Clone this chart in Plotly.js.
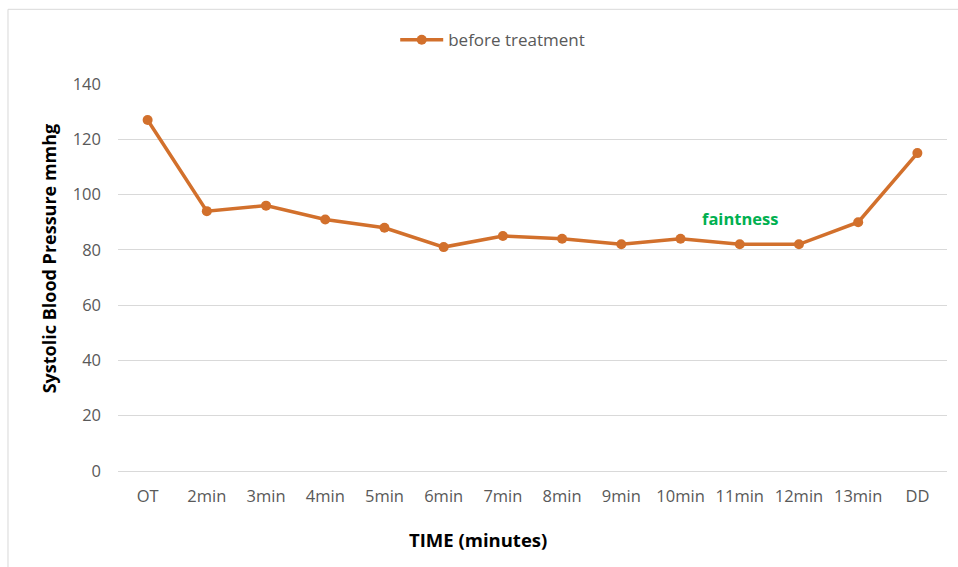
<!DOCTYPE html>
<html>
<head>
<meta charset="utf-8">
<script src="https://cdn.plot.ly/plotly-3.0.1.min.js"></script>
<style>
  html, body { margin: 0; padding: 0; background: #ffffff; }
  #chart { width: 958px; height: 567px; }
</style>
</head>
<body>
<div id="chart"></div>
<script>
// Time points of the measurement
const timeLabels = ['OT', '2min', '3min', '4min', '5min', '6min', '7min', '8min',
                    '9min', '10min', '11min', '12min', '13min', 'DD'];
// Systolic blood pressure (mmHg) before treatment
const beforeTreatment = [127, 94, 96, 91, 88, 81, 85, 84, 82, 84, 82, 82, 90, 115];
// Event note
const noteText = 'faintness';
const noteAt = '11min';
const noteY = 91.5;

const lineColor = '#d2702c';
const fontFamily = 'Open Sans, Liberation Sans, sans-serif';
const tickFont = { family: fontFamily, size: 16.5, color: '#595959' };

const trace = {
  type: 'scatter',
  mode: 'lines+markers',
  name: 'before treatment',
  x: timeLabels,
  y: beforeTreatment,
  line: { color: lineColor, width: 3.5 },
  marker: { color: lineColor, size: 10 }
};

const layout = {
  width: 958,
  height: 567,
  margin: { l: 118, r: 11, t: 84, b: 96 },
  paper_bgcolor: '#ffffff',
  plot_bgcolor: '#ffffff',
  showlegend: true,
  legend: {
    orientation: 'h',
    x: 0.452, xanchor: 'center',
    y: 1.113, yanchor: 'middle',
    itemwidth: 43,
    font: { family: fontFamily, size: 17, color: '#595959' },
    bgcolor: 'rgba(0,0,0,0)'
  },
  xaxis: {
    type: 'category',
    range: [-0.5, 13.5],
    showgrid: false,
    showline: false,
    zeroline: false,
    ticks: '',
    tickfont: tickFont,
    ticklabelstandoff: 13
  },
  yaxis: {
    range: [0, 140],
    dtick: 20,
    showgrid: true,
    gridcolor: '#d9d9d9',
    gridwidth: 1,
    zeroline: true,
    zerolinecolor: '#d9d9d9',
    zerolinewidth: 1,
    showline: false,
    ticks: '',
    tickfont: tickFont,
    ticklabelstandoff: 16
  },
  shapes: [{
    type: 'rect',
    xref: 'paper', yref: 'paper',
    x0: -0.1327, x1: 1.2, y0: -0.6, y1: 1.193,
    line: { color: '#d9d9d9', width: 1 },
    fillcolor: 'rgba(0,0,0,0)',
    layer: 'below'
  }],
  annotations: [
    {
      text: '<b>TIME (minutes)</b>',
      xref: 'paper', yref: 'paper',
      x: 0.434, y: -0.178,
      xanchor: 'center', yanchor: 'middle',
      showarrow: false,
      font: { family: fontFamily, size: 18.5, color: '#000000' }
    },
    {
      text: '<b>Systolic Blood Pressure mmhg</b>',
      xref: 'paper', yref: 'paper',
      x: -0.0835, y: 0.549,
      xanchor: 'center', yanchor: 'middle',
      textangle: -90,
      showarrow: false,
      font: { family: fontFamily, size: 18, color: '#000000' }
    },
    {
      text: '<b>' + noteText + '</b>',
      x: noteAt, y: noteY,
      xref: 'x', yref: 'y',
      xanchor: 'center', yanchor: 'middle',
      showarrow: false,
      font: { family: fontFamily, size: 16.5, color: '#00b050' }
    }
  ]
};

Plotly.newPlot('chart', [trace], layout, { displayModeBar: false, staticPlot: true });
</script>
</body>
</html>
